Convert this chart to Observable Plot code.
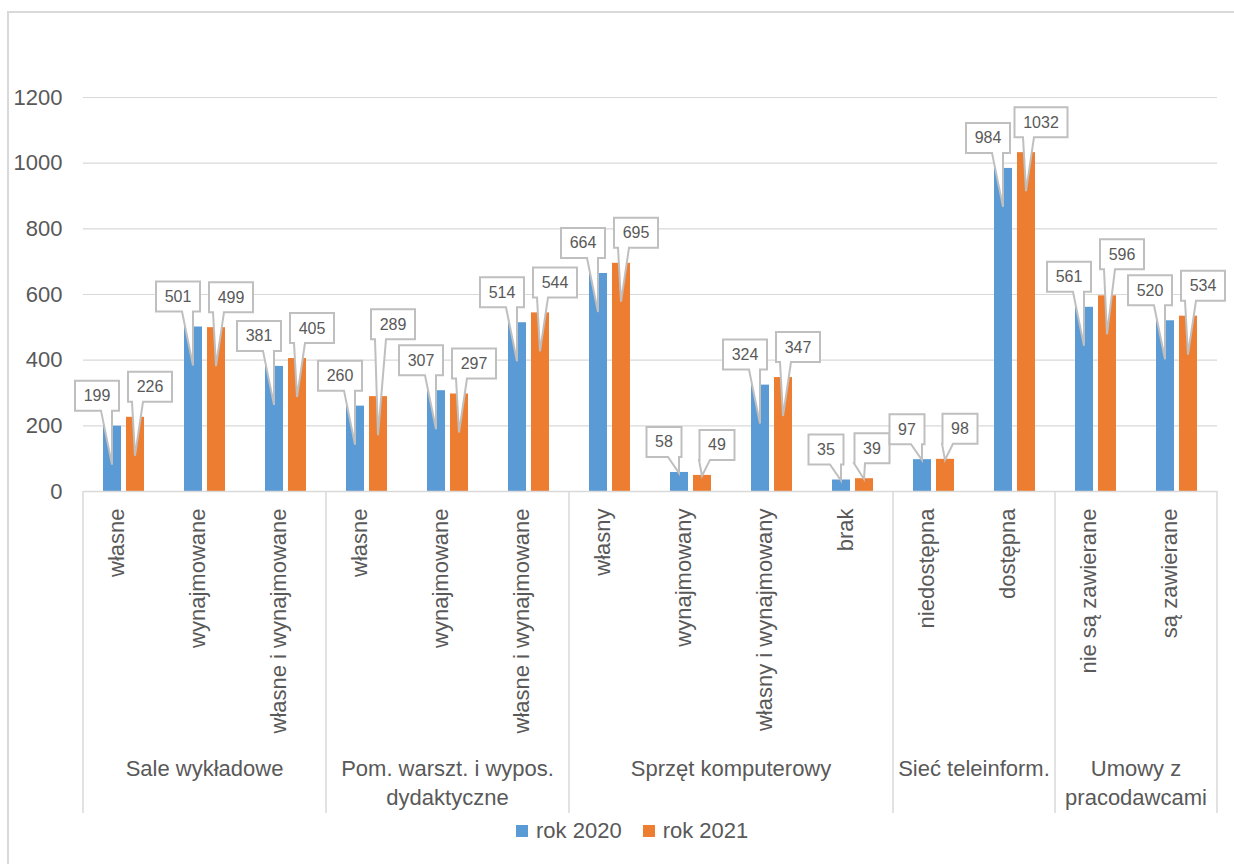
<!DOCTYPE html>
<html>
<head>
<meta charset="utf-8">
<script src="https://cdn.jsdelivr.net/npm/d3@7"></script>
<script src="https://cdn.jsdelivr.net/npm/@observablehq/plot@0.6"></script>
<style>
  html, body { margin: 0; padding: 0; background: #fff; overflow: hidden; }
  body { width: 1234px; height: 864px; position: relative; font-family: "Liberation Sans", Arial, sans-serif; }
  #frame { position: absolute; left: 7px; top: 11px; width: 1270px; height: 900px; border: 2px solid #d9d9d9; box-sizing: border-box; }
  #chart { position: absolute; left: 0; top: 0; }
  #legend { position: absolute; top: 815px; left: 516px; height: 32px; display: flex; align-items: center; font-size: 22px; color: #595959; }
  #legend .item { display: flex; align-items: center; margin-right: 21px; }
  #legend .sw { width: 12px; height: 12px; margin-right: 8px; }
</style>
</head>
<body>
<div id="frame"></div>
<div id="chart"></div>
<div id="legend"></div>
<script>
// ---- data ----
const groupNames = ["Sale wykładowe", "Pom. warszt. i wypos.\ndydaktyczne", "Sprzęt komputerowy", "Sieć teleinform.", "Umowy z\npracodawcami"];
const subLabels = ["własne", "wynajmowane", "własne i wynajmowane", "własne", "wynajmowane", "własne i wynajmowane", "własny", "wynajmowany", "własny i wynajmowany", "brak", "niedostępna", "dostępna", "nie są zawierane", "są zawierane"];
const groupOf = [0, 0, 0, 1, 1, 1, 2, 2, 2, 2, 3, 3, 4, 4];
const values2020 = [199, 501, 381, 260, 307, 514, 664, 58, 324, 35, 97, 984, 561, 520];
const values2021 = [226, 499, 405, 289, 297, 544, 695, 49, 347, 39, 98, 1032, 596, 534];
const seriesNames = ["rok 2020", "rok 2021"];
const seriesColors = ["#5B9BD5", "#ED7D31"];
const yTicks = [0, 200, 400, 600, 800, 1000, 1200];

// ---- table ----
const keys = d3.range(subLabels.length);
const rows = [];
keys.forEach(i => {
  rows.push({key: i, series: 0, value: values2020[i]});
  rows.push({key: i, series: 1, value: values2021[i]});
});
const rows2020 = rows.filter(d => d.series === 0);
const rows2021 = rows.filter(d => d.series === 1);

const textColor = "#595959";
const gridColor = "#d9d9d9";

// group separators and labels
function groupMark(index, scales, values, dims) {
  const x = scales.x, y = scales.y, bw = x.bandwidth();
  const g = d3.create("svg:g");
  const y0 = y(0);
  const yEnd = dims.height - 2;
  const edges = new Set();
  groupNames.forEach((name, gi) => {
    const idx = keys.filter(i => groupOf[i] === gi);
    const x1 = x(idx[0]), x2 = x(idx[idx.length - 1]) + bw;
    edges.add(x1); edges.add(x2);
    const t = g.append("text")
      .attr("x", (x1 + x2) / 2)
      .attr("y", yEnd - 45)
      .attr("text-anchor", "middle")
      .attr("dominant-baseline", "central")
      .attr("fill", textColor)
      .attr("font-size", 22);
    name.split("\n").forEach((line, li) => {
      t.append("tspan").attr("x", (x1 + x2) / 2).attr("dy", li === 0 ? 0 : 29).text(line);
    });
  });
  for (const ex of edges) {
    g.append("line").attr("x1", ex).attr("x2", ex).attr("y1", y0).attr("y2", yEnd)
      .attr("stroke", gridColor).attr("stroke-width", 1.5);
  }
  return g.node();
}

// callout data labels (placed right to left, nudged on collision)
function calloutMark(index, scales, values, dims) {
  const x = scales.x, y = scales.y, bw = x.bandwidth();
  const g = d3.create("svg:g");
  const y0 = y(0);
  const placed = [];
  const order = rows.slice().reverse();
  order.forEach(d => {
    const sign = d.series === 0 ? -1 : 1;
    const barCx = x(d.key) + bw / 2 + sign * 11.5;
    const top = y(d.value);
    const h = y0 - top;
    const label = String(d.value);
    const w = Math.round(label.length * 0.556 * 16 + 17);
    let cx = barCx + sign * 15;
    let by1 = top - 15;
    let moved = true, guard = 0;
    while (moved && guard++ < 20) {
      moved = false;
      for (const p of placed) {
        const bx0 = cx - w / 2, bx1 = cx + w / 2, by0 = by1 - 30;
        if (bx0 < p.bx1 && bx1 > p.bx0 && by0 < p.by1 && by1 > p.by0) {
          const ox = Math.min(bx1, p.bx1) - Math.max(bx0, p.bx0);
          const vNeed = by1 - (p.by0 - 6);
          if (ox < 12 || vNeed > 50) {
            if (cx < (p.bx0 + p.bx1) / 2) cx = p.bx0 - w / 2; else cx = p.bx1 + w / 2;
          } else {
            by1 = p.by0 - 6;
          }
          moved = true;
        }
      }
    }
    const bx0 = cx - w / 2, bx1 = cx + w / 2, by0 = by1 - 30;
    placed.push({bx0, bx1, by0, by1});
    d.box = {cx, barCx, top, h, label, bx0, bx1, by0, by1, sign};
  });
  rows.forEach(d => {
    const {cx, barCx, top, h, label, bx0, bx1, by0, by1, sign} = d.box;
    const tx = barCx, ty = h > 50 ? top + 39 : top + 1;
    let wa, wb;
    if (sign < 0) { wa = cx + 4; wb = cx + 15; } else { wa = cx - 18; wb = cx - 7; }
    g.append("path")
      .attr("d", `M${bx0},${by0}H${bx1}V${by1}H${wb}L${tx},${ty}L${wa},${by1}H${bx0}Z`)
      .attr("fill", "#fff")
      .attr("stroke", "#bfbfbf")
      .attr("stroke-width", 2)
      .attr("stroke-linejoin", "miter");
    g.append("text")
      .attr("x", cx)
      .attr("y", (by0 + by1) / 2)
      .attr("text-anchor", "middle")
      .attr("dominant-baseline", "central")
      .attr("fill", textColor)
      .attr("font-size", 16)
      .text(label);
  });
  return g.node();
}

const chart = Plot.plot({
  width: 1234,
  height: 815,
  marginLeft: 83,
  marginRight: 17,
  marginTop: 97,
  marginBottom: 324,
  style: {fontFamily: "'Liberation Sans', Arial, sans-serif", fontSize: "22px", color: textColor, background: "transparent"},
  x: {type: "band", domain: keys, padding: 0, axis: null},
  y: {domain: [0, 1200], axis: null},
  marks: [
    Plot.ruleY(yTicks.filter(v => v > 0), {stroke: gridColor, strokeWidth: 1.2}),
    Plot.axisY({ticks: yTicks, tickFormat: d => String(d), tickSize: 0, tickPadding: 21, fontSize: 22, fill: textColor, label: null}),
    Plot.barY(rows2020, {x: "key", y: "value", fill: seriesColors[0], insetLeft: 20, insetRight: 43}),
    Plot.barY(rows2021, {x: "key", y: "value", fill: seriesColors[1], insetLeft: 43, insetRight: 20}),
    Plot.ruleY([0], {stroke: gridColor, strokeWidth: 1.5}),
    Plot.text(keys, {x: d => d, text: d => subLabels[d], frameAnchor: "bottom", rotate: -90, textAnchor: "end", dy: 17, fontSize: 22, fill: textColor}),
    groupMark,
    calloutMark
  ]
});
document.getElementById("chart").appendChild(chart);

// legend
const legend = d3.select("#legend");
seriesNames.forEach((name, i) => {
  const item = legend.append("div").attr("class", "item");
  item.append("div").attr("class", "sw").style("background", seriesColors[i]);
  item.append("span").text(name);
});
</script>
</body>
</html>
